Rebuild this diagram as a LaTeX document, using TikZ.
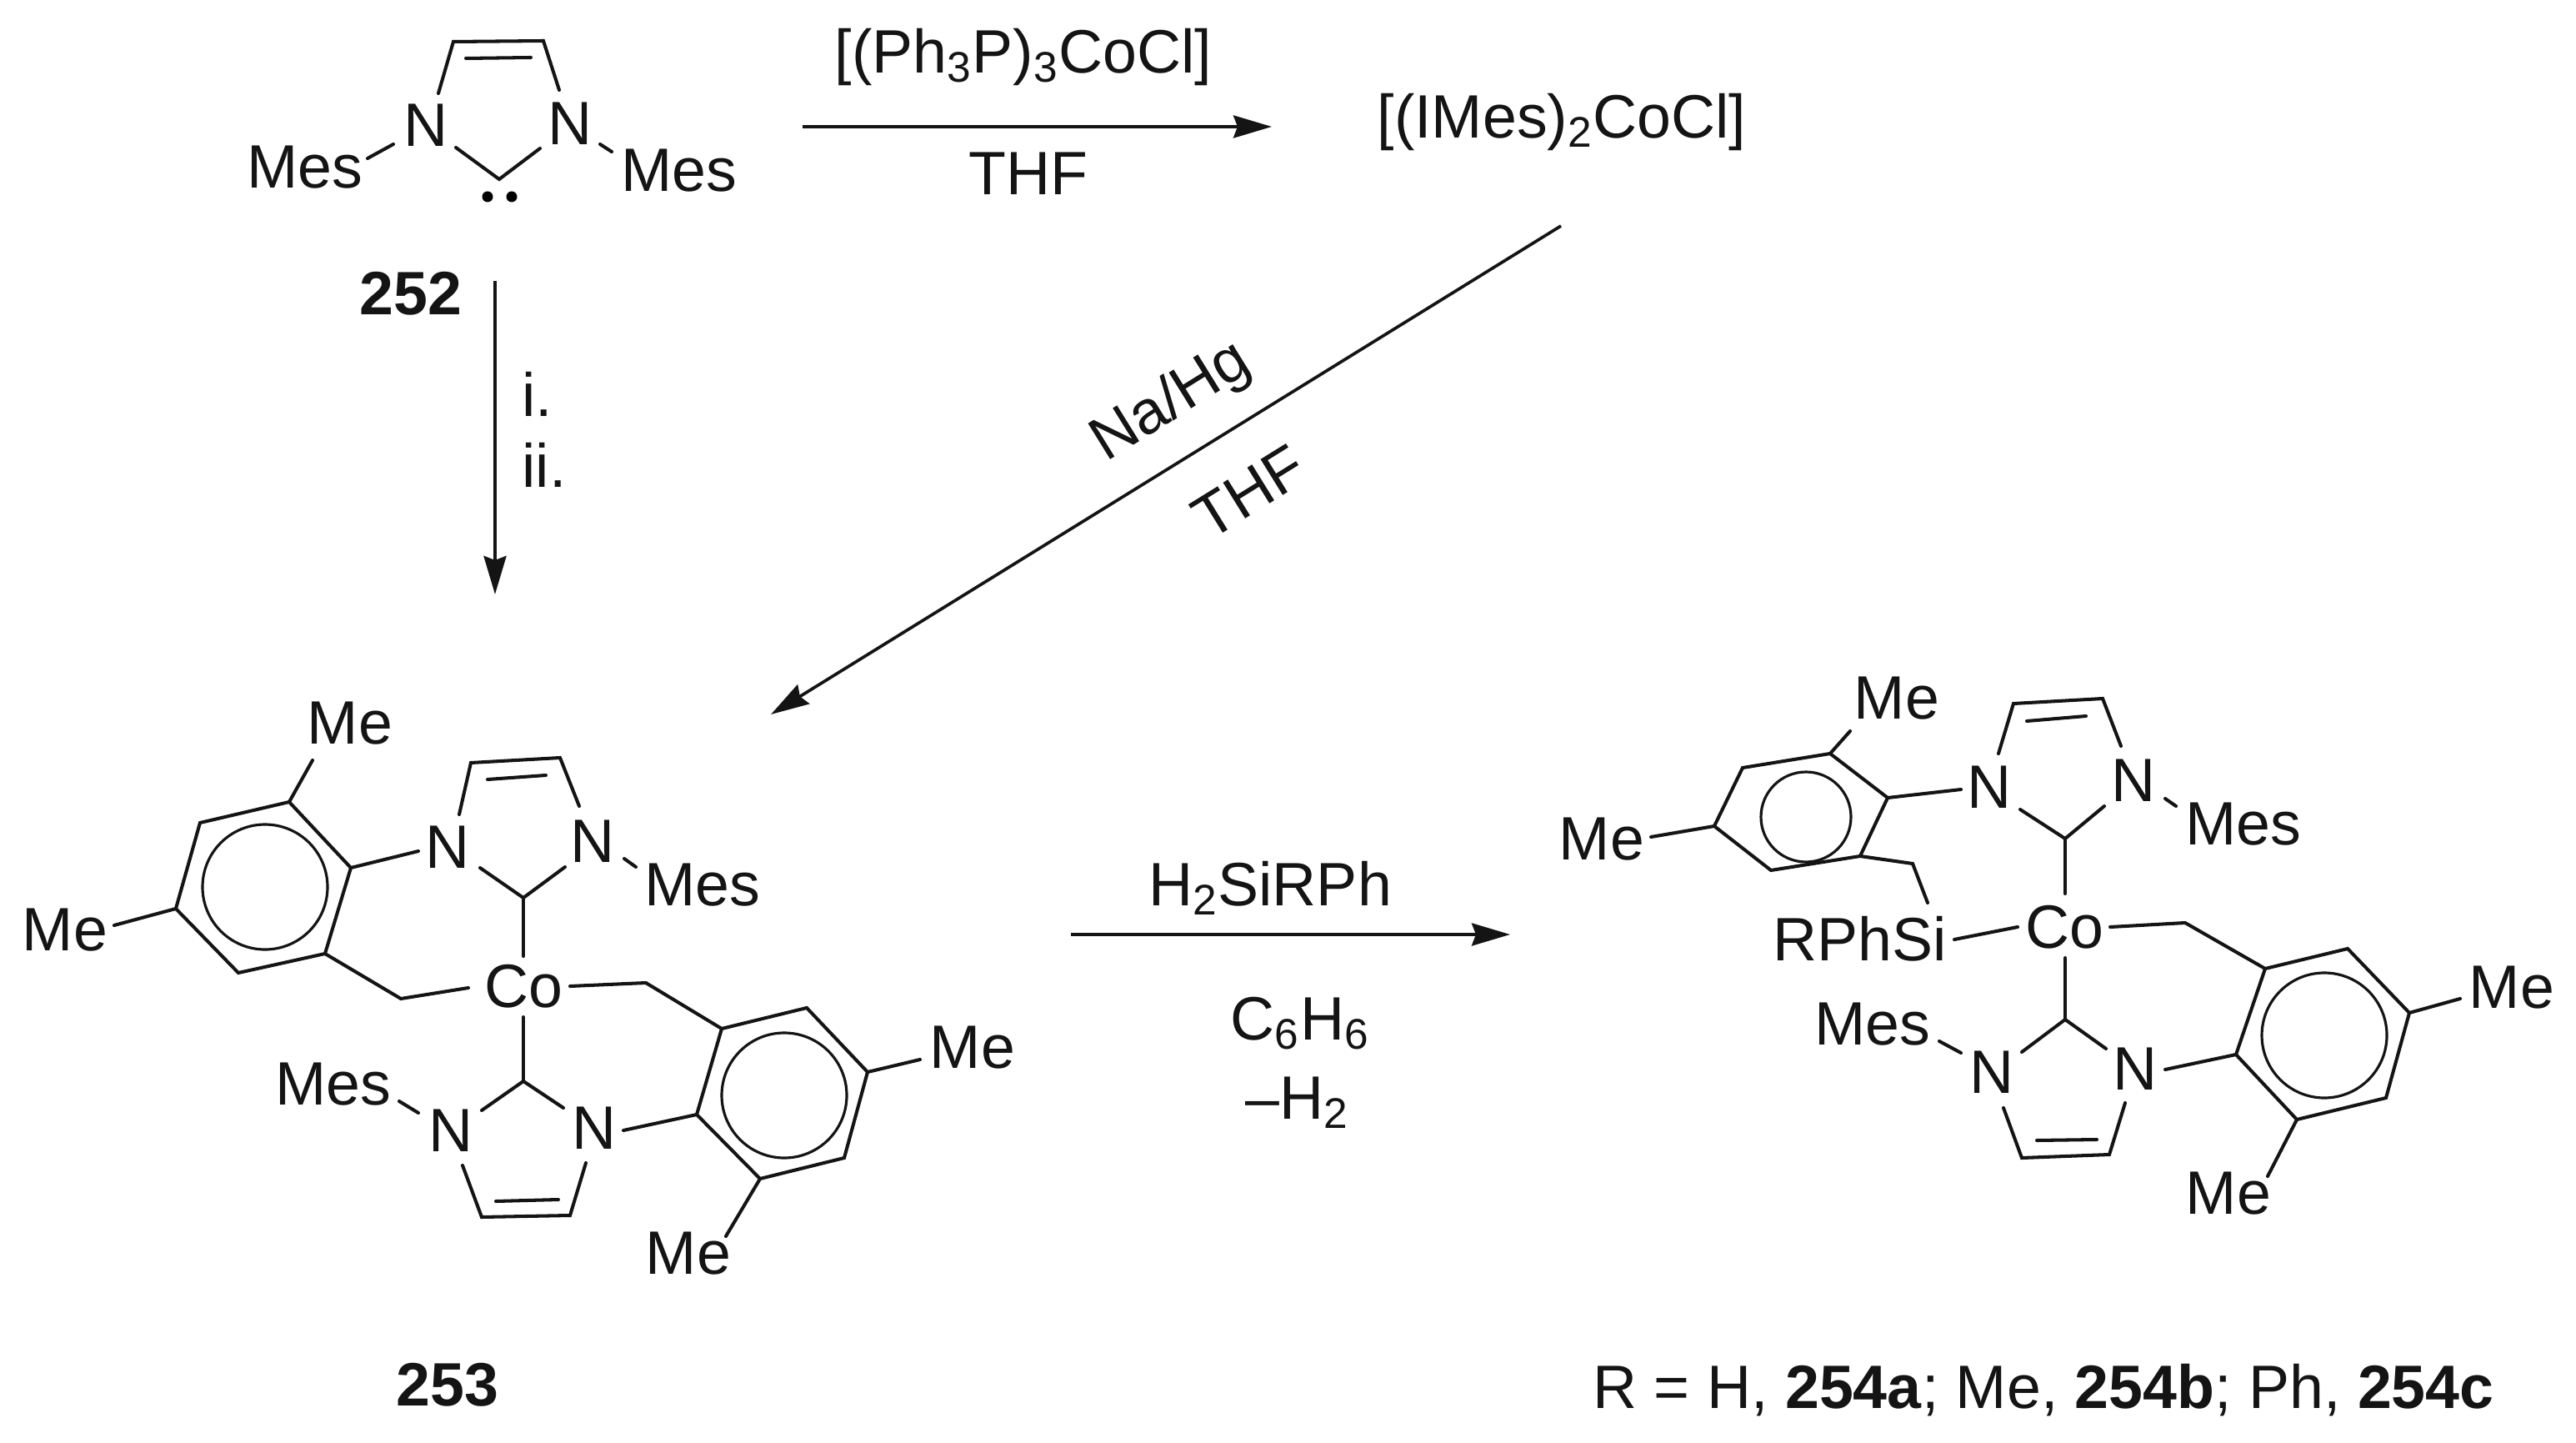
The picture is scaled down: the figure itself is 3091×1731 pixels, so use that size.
\documentclass[tikz,border=0pt]{standalone}
\usepackage{fontspec}
\setmainfont{Liberation Sans}
\usetikzlibrary{arrows.meta}
\tikzset{
  bond/.style={line width=1.15pt,line join=miter,line cap=round,black!92},
  rxn/.style={line width=1.05pt,black!92,-{Stealth[length=0.46cm,width=0.27cm,inset=0.05cm]}},
  lab/.style={inner sep=0pt,outer sep=0pt,font=\fontsize{20.9}{25}\selectfont,text=black!92},
  boldlab/.style={lab,font=\fontsize{20.9}{25}\selectfont\bfseries},
}
\begin{document}
\begin{tikzpicture}[x=0.01cm,y=-0.01cm]
\useasboundingbox (0,0) rectangle (3091,1731);
% ---------- 252
\node[lab] (n252a) at (511,150) {N};
\node[lab] (n252b) at (684,148) {N};
\node[lab] (m252a) at (366,201) {Mes};
\node[lab] (m252b) at (815,205) {Mes};
\node[boldlab] (l252) at (493,352) {252};
\draw[bond] (526,112) -- (544,50) -- (652,49) -- (671,108);
\draw[bond] (559,70) -- (637,69);
\draw[bond] (547,177) -- (599,215) -- (648,178);
\draw[bond] (441,190) -- (472,173);
\draw[bond] (720,173) -- (734,182);
\fill[black] (585,236) circle[radius=6.5] (614,236) circle[radius=6.5];
% ---------- arrows and reagents
\coordinate (a1s) at (594,337); \coordinate (a1e) at (594,713);
\draw[rxn] (a1s) -- (a1e);
\node[lab] (ri) at (645,473) {i.};
\node[lab] (rii) at (653,558) {ii.};
\coordinate (a2s) at (963,152); \coordinate (a2e) at (1526,152);
\draw[rxn] (a2s) -- (a2e);
\node[lab] (rco) at (1228,69) {[(Ph\textsubscript{3}P)\textsubscript{3}CoCl]};
\node[lab] (rthf) at (1234,208) {THF};
\node[lab] (imes) at (1874,147) {[(IMes)\textsubscript{2}CoCl]};
\coordinate (a3s) at (1873,271); \coordinate (a3e) at (925,857);
\draw[rxn] (a3s) -- (a3e);
\node[lab,rotate=31.8] (rna) at (1406,483) {Na/Hg};
\node[lab,rotate=31.8] (rthf2) at (1499,590) {THF};
\coordinate (a4s) at (1285,1121); \coordinate (a4e) at (1812,1121);
\draw[rxn] (a4s) -- (a4e);
\node[lab] (rsi) at (1524,1065) {H\textsubscript{2}SiRPh};
\node[lab] (rbz) at (1560,1228) {C\textsubscript{6}H\textsubscript{6}};
\node[lab] (rh2) at (1557,1323) {--H\textsubscript{2}};
% ---------- 253
\node[lab] (c1) at (628,1183) {Co};
\node[lab] (n1a) at (537,1016) {N};
\node[lab] (n1b) at (711,1009) {N};
\node[lab] (n1c) at (541,1356) {N};
\node[lab] (n1d) at (713,1353) {N};
\node[lab] (m1a) at (420,868) {Me};
\node[lab] (m1b) at (78,1116) {Me};
\node[lab] (m1c) at (843,1062) {Mes};
\node[lab] (m1d) at (400,1301) {Mes};
\node[lab] (m1e) at (1167,1257) {Me};
\node[lab] (m1f) at (826,1504) {Me};
\node[boldlab] (l253) at (537,1661) {253};
\draw[bond] (347,962) -- (240,987) -- (211,1090) -- (286,1167) -- (390,1144) -- (421,1041) -- cycle;
\draw[bond,line width=0.9pt] (318,1064) circle[radius=75];
\draw[bond] (375,912) -- (347,962);
\draw[bond] (137,1110) -- (211,1090);
\draw[bond] (421,1041) -- (502,1021);
\draw[bond] (551,977) -- (565,915) -- (672,909) -- (695,967);
\draw[bond] (585,935) -- (655,930);
\draw[bond] (576,1041) -- (628,1077) -- (678,1040);
\draw[bond] (749,1030) -- (763,1040);
\draw[bond] (628,1077) -- (628,1147);
\draw[bond] (390,1144) -- (481,1198) -- (562,1185);
\draw[bond] (684,1183) -- (775,1179) -- (866,1234);
\draw[bond] (866,1234) -- (968,1209) -- (1041,1286) -- (1013,1389) -- (912,1414) -- (836,1337) -- cycle;
\draw[bond,line width=0.9pt] (941,1314) circle[radius=75];
\draw[bond] (1041,1286) -- (1104,1271);
\draw[bond] (912,1414) -- (871,1483);
\draw[bond] (628,1220) -- (628,1297);
\draw[bond] (578,1332) -- (628,1297) -- (676,1329);
\draw[bond] (479,1321) -- (502,1335);
\draw[bond] (555,1398) -- (578,1460) -- (684,1458) -- (703,1395);
\draw[bond] (595,1441) -- (670,1439);
\draw[bond] (748,1356) -- (836,1337);
% ---------- 254
\node[lab] (c2) at (2477,1112) {Co};
\node[lab] (si) at (2232,1126) {RPhSi};
\node[lab] (n2a) at (2387,944) {N};
\node[lab] (n2b) at (2560,936) {N};
\node[lab] (n2c) at (2390,1286) {N};
\node[lab] (n2d) at (2562,1282) {N};
\node[lab] (m2a) at (2276,838) {Me};
\node[lab] (m2b) at (1922,1007) {Me};
\node[lab] (m2c) at (2692,989) {Mes};
\node[lab] (m2d) at (2247,1229) {Mes};
\node[lab] (m2e) at (3014,1185) {Me};
\node[lab] (m2f) at (2674,1432) {Me};
\node[lab] (l254) at (2452,1668) {R = H, \textbf{254a}; Me, \textbf{254b}; Ph, \textbf{254c}};
\draw[bond] (2196,904) -- (2091,921) -- (2057,991) -- (2125,1044) -- (2232,1027) -- (2265,957) -- cycle;
\draw[bond,line width=0.9pt] (2167,980) circle[radius=54];
\draw[bond] (2196,904) -- (2220,877);
\draw[bond] (2057,991) -- (1981,1004);
\draw[bond] (2265,957) -- (2353,947);
\draw[bond] (2398,904) -- (2416,844) -- (2523,838) -- (2545,895);
\draw[bond] (2432,865) -- (2503,859);
\draw[bond] (2424,971) -- (2478,1006) -- (2525,967);
\draw[bond] (2598,958) -- (2611,967);
\draw[bond] (2478,1006) -- (2478,1072);
\draw[bond] (2232,1027) -- (2295,1036) -- (2313,1083);
\draw[bond] (2345,1127) -- (2421,1112);
\draw[bond] (2532,1112) -- (2622,1107) -- (2718,1162);
\draw[bond] (2718,1162) -- (2817,1138) -- (2891,1215) -- (2863,1317) -- (2756,1343) -- (2683,1265) -- cycle;
\draw[bond,line width=0.9pt] (2789,1242) circle[radius=75];
\draw[bond] (2891,1215) -- (2952,1198);
\draw[bond] (2756,1343) -- (2721,1411);
\draw[bond] (2478,1149) -- (2478,1223);
\draw[bond] (2426,1262) -- (2478,1223) -- (2527,1258);
\draw[bond] (2327,1249) -- (2353,1263);
\draw[bond] (2598,1283) -- (2683,1265);
\draw[bond] (2404,1329) -- (2426,1389) -- (2531,1385) -- (2550,1323);
\draw[bond] (2444,1368) -- (2516,1367);
\end{tikzpicture}
\end{document}
